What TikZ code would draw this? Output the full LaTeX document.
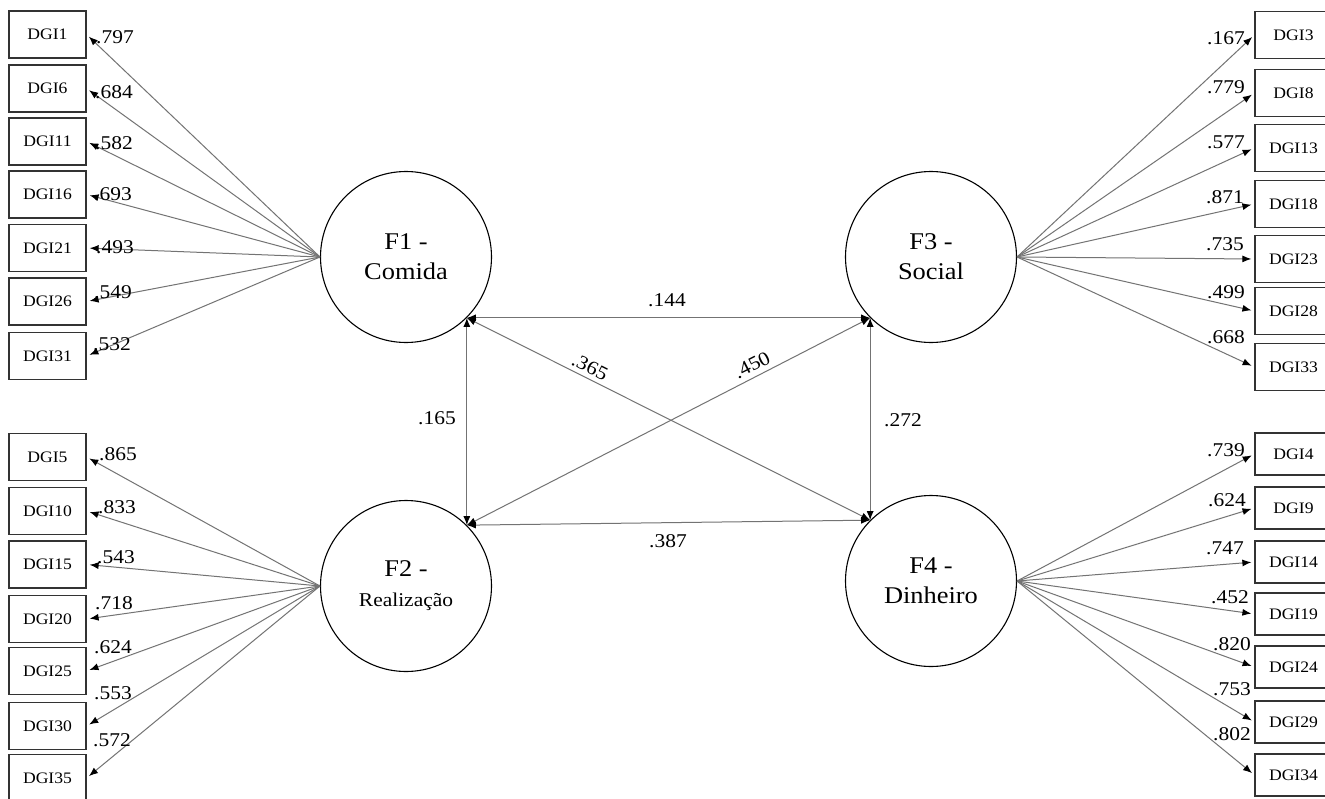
\documentclass[tikz,border=0pt]{standalone}
\usepackage{fontspec}
\setmainfont{Liberation Serif}[FakeStretch=1.1]
\usetikzlibrary{arrows.meta}
\begin{document}
\begin{tikzpicture}[x=1pt,y=-1pt,
  item/.style={draw=black!80, line width=1.3pt, minimum width=77pt, minimum height=47pt, inner sep=0pt, font=\fontsize{16}{18}\selectfont},
  itemS/.style={item, minimum height=42pt},
  factor/.style={draw=black, line width=1.1pt, circle, minimum size=171pt, inner sep=0pt, align=center, font=\fontsize{24}{30}\selectfont},
  load/.style={draw=black!55, line width=1pt, -{Latex[length=9pt,width=7pt,color=black]}, shorten >=3pt},
  cov/.style={draw=black!55, line width=1pt, {Latex[length=9pt,width=7pt,color=black]}-{Latex[length=9pt,width=7pt,color=black]}},
  num/.style={inner sep=0pt, font=\fontsize{19.5}{21}\selectfont}
]
\useasboundingbox (0,0) rectangle (1325,798);
\clip (0,0) rectangle (1325,798);
\fill[white] (0,0) rectangle (1325,798);

% factors
\node[factor] (F1) at (406,257) {F1 -\\Comida};
\node[factor] (F3) at (931,257) {F3 -\\Social};
\node[factor] (F2) at (406,586) {F2 -\\{\fontsize{19.5}{26}\selectfont Realização}};
\node[factor] (F4) at (931,581) {F4 -\\Dinheiro};

% left top items
\node[item] (i1)  at (47.5,34.5)  {DGI1};
\node[item] (i6)  at (47.5,88.5)  {DGI6};
\node[item] (i11) at (47.5,141.5) {DGI11};
\node[item] (i16) at (47.5,194.5) {DGI16};
\node[item] (i21) at (47.5,248)   {DGI21};
\node[item] (i26) at (47.5,301.5) {DGI26};
\node[item] (i31) at (47.5,356)   {DGI31};
% left bottom items
\node[item] (i5)  at (47.5,457)   {DGI5};
\node[item] (i10) at (47.5,511)   {DGI10};
\node[item] (i15) at (47.5,564.5) {DGI15};
\node[item] (i20) at (47.5,619)   {DGI20};
\node[item] (i25) at (47.5,671)   {DGI25};
\node[item] (i30) at (47.5,726)   {DGI30};
\node[item] (i35) at (47.5,778)   {DGI35};
% right top items
\node[item] (i3)  at (1293.5,35)  {DGI3};
\node[item] (i8)  at (1293.5,93)  {DGI8};
\node[item] (i13) at (1293.5,148) {DGI13};
\node[item] (i18) at (1293.5,204) {DGI18};
\node[item] (i23) at (1293.5,259) {DGI23};
\node[item] (i28) at (1293.5,311) {DGI28};
\node[item] (i33) at (1293.5,367) {DGI33};
% right bottom items
\node[itemS] (i4)  at (1293.5,454) {DGI4};
\node[itemS] (i9)  at (1293.5,508) {DGI9};
\node[itemS] (i14) at (1293.5,562) {DGI14};
\node[itemS] (i19) at (1293.5,614) {DGI19};
\node[itemS] (i24) at (1293.5,667) {DGI24};
\node[itemS] (i29) at (1293.5,722) {DGI29};
\node[itemS] (i34) at (1293.5,775) {DGI34};

% loadings
\foreach \t in {i1,i6,i11,i16,i21,i26,i31} \draw[load] (F1.west) -- (\t.east);
\foreach \t in {i5,i10,i15,i20,i25,i30,i35} \draw[load] (F2.west) -- (\t.east);
\foreach \t in {i3,i8,i13,i18,i23,i28,i33} \draw[load] (F3.east) -- (\t.west);
\foreach \t in {i4,i9,i14,i19,i24,i29,i34} \draw[load] (F4.east) -- (\t.west);

% covariances
\draw[cov] (F1.-45) -- (F3.-135);
\draw[cov] (F1.-45) -- (F2.45);
\draw[cov] (F3.-135) -- (F4.135);
\draw[cov] (F1.-45) -- (F4.135);
\draw[cov] (F3.-135) -- (F2.45);
\draw[cov] (F2.45) -- (F4.135);

% loading values
\node[num] (a1)  at (115,37)  {.797};
\node[num] (a6)  at (114,92)  {.684};
\node[num] (a11) at (114,143) {.582};
\node[num] (a16) at (113,194) {.693};
\node[num] (a21) at (115,247) {.493};
\node[num] (a26) at (113,292) {.549};
\node[num] (a31) at (112,344) {.532};
\node[num] (a5)  at (118,454) {.865};
\node[num] (a10) at (117,507) {.833};
\node[num] (a15) at (116,557) {.543};
\node[num] (a20) at (114,603) {.718};
\node[num] (a25) at (113,647) {.624};
\node[num] (a30) at (113,693) {.553};
\node[num] (a35) at (112,740) {.572};
\node[num] (a3)  at (1226,38)  {.167};
\node[num] (a8)  at (1226,87)  {.779};
\node[num] (a13) at (1226,142) {.577};
\node[num] (a18) at (1225,197) {.871};
\node[num] (a23) at (1225,244) {.735};
\node[num] (a28) at (1226,292) {.499};
\node[num] (a33) at (1226,337) {.668};
\node[num] (a4)  at (1226,450) {.739};
\node[num] (a9)  at (1227,500) {.624};
\node[num] (a14) at (1225,548) {.747};
\node[num] (a19) at (1230,597) {.452};
\node[num] (a24) at (1232,644) {.820};
\node[num] (a29) at (1232,689) {.753};
\node[num] (a34) at (1232,734) {.802};

% covariance values
\node[num] (c13) at (667,300) {.144};
\node[num, rotate=-26.6] (c14) at (590,367) {.365};
\node[num, rotate=27] (c32) at (752,365) {.450};
\node[num] (c12) at (437,418) {.165};
\node[num] (c34) at (903,420) {.272};
\node[num] (c24) at (668,541) {.387};
\end{tikzpicture}
\end{document}
